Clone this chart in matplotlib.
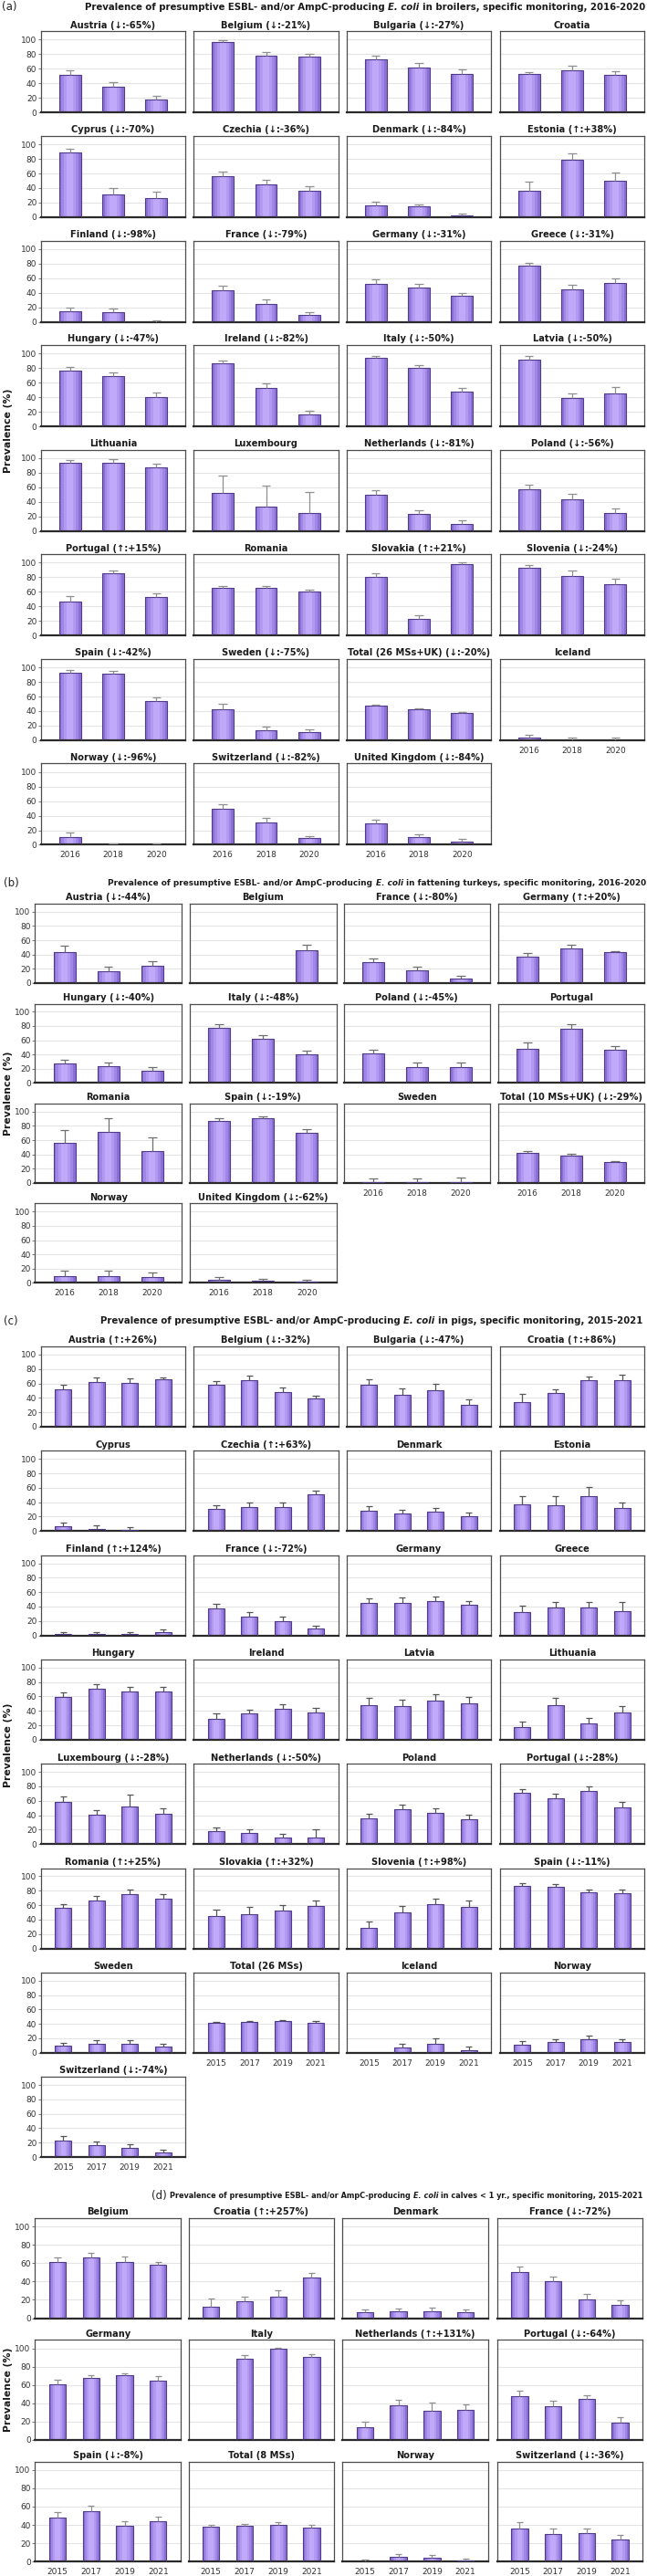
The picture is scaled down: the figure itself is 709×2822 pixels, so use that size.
import matplotlib
matplotlib.use('Agg')
import matplotlib.pyplot as plt
from matplotlib import font_manager
import numpy as np

nan = float('nan')

# ---------------- DATA ----------------
A_YEARS = ['2016', '2018', '2020']
A_TITLES = ['Austria (↓:-65%)', 'Belgium (↓:-21%)', 'Bulgaria (↓:-27%)', 'Croatia',
            'Cyprus (↓:-70%)', 'Czechia (↓:-36%)', 'Denmark (↓:-84%)', 'Estonia (↑:+38%)',
            'Finland (↓:-98%)', 'France (↓:-79%)', 'Germany (↓:-31%)', 'Greece (↓:-31%)',
            'Hungary (↓:-47%)', 'Ireland (↓:-82%)', 'Italy (↓:-50%)', 'Latvia (↓:-50%)',
            'Lithuania', 'Luxembourg', 'Netherlands (↓:-81%)', 'Poland (↓:-56%)',
            'Portugal (↑:+15%)', 'Romania', 'Slovakia (↑:+21%)', 'Slovenia (↓:-24%)',
            'Spain (↓:-42%)', 'Sweden (↓:-75%)', 'Total (26 MSs+UK) (↓:-20%)', 'Iceland',
            'Norway (↓:-96%)', 'Switzerland (↓:-82%)', 'United Kingdom (↓:-84%)']
A_VALUES = [[52, 36, 17.6], [96.6, 78, 76.5], [73, 62, 53], [53, 57.5, 51.7],
            [89, 31.4, 26.8], [56, 44.8, 36], [16, 14.6, 2.5], [36, 79, 49.4],
            [14.2, 13, 0], [43.8, 24.6, 9.2], [52, 46.7, 35.4], [76.7, 44.6, 53],
            [76.2, 69.2, 40.4], [86.7, 53, 15.8], [94.2, 80, 47.5], [91, 38.8, 45],
            [93.3, 94, 87], [52.5, 33.3, 25], [50, 23, 9.6], [57, 43.8, 25],
            [46.4, 85.4, 53], [65, 65, 61], [81, 23.4, 98.3], [93, 82.4, 70.3],
            [92.5, 90.8, 53.6], [43, 13.8, 10.9], [47, 43, 37.7], [3.3, 0.3, 0.5],
            [10.4, 0.3, 0.3], [49.6, 30.4, 9.6], [29.2, 10.8, 5]]
A_ERRS = [[6, 5.6, 5.1], [2.4, 5, 3.5], [5, 6, 6], [2.5, 6.5, 5],
          [5, 8.6, 8.2], [6.8, 6.7, 7], [5, 3, 2.5], [12.5, 9, 11.6],
          [5, 5, 1.7], [6.2, 5.8, 3.8], [6, 5, 4.2], [4.6, 5.8, 6],
          [5, 5.4, 5.8], [4.1, 6, 5], [2.5, 3.8, 5], [5, 7, 9],
          [3.7, 4, 5.5], [23.5, 28.7, 28], [6, 5.3, 5], [6, 6.6, 5.4],
          [8.4, 3.6, 5.6], [3, 3, 2], [4.4, 4.6, 1.7], [4, 6.3, 7.5],
          [3.3, 3.8, 5], [6.4, 5, 4.1], [2, 0.5, 1.6], [3.7, 3.5, 3.3],
          [5.9, 2.2, 2.2], [5.8, 6.3, 2.9], [5.4, 4.2, 3]]

B_YEARS = ['2016', '2018', '2020']
B_TITLES = ['Austria (↓:-44%)', 'Belgium', 'France (↓:-80%)', 'Germany (↑:+20%)',
            'Hungary (↓:-40%)', 'Italy (↓:-48%)', 'Poland (↓:-45%)', 'Portugal',
            'Romania', 'Spain (↓:-19%)', 'Sweden', 'Total (10 MSs+UK) (↓:-29%)',
            'Norway', 'United Kingdom (↓:-62%)']
B_VALUES = [[43.8, 16.3, 24], [nan, nan, 46.4], [28.8, 17.2, 6], [36.5, 48.5, 43.8],
            [27.2, 23.3, 16.4], [77.6, 62.5, 39.7], [41, 22, 22.4], [48.3, 76.3, 46],
            [56, 72, 45], [86.5, 90.5, 70], [1, 0.3, 0.3], [42, 38.6, 29],
            [9.7, 9.7, 7.5], [4.5, 3, 1.5]]
B_ERRS = [[8.2, 6, 6.5], [0, 0, 6.8], [5.5, 5.1, 3.9], [6, 5.1, 1.2],
          [5.6, 5.6, 5.2], [4.7, 4.3, 5.1], [6, 6, 5.6], [8.2, 6.9, 5.7],
          [18, 18.5, 19], [4, 3.5, 5], [5.4, 5.3, 7.4], [2, 2.2, 1.5],
          [6.8, 6.8, 6.8], [3.2, 2.5, 2.5]]

C_YEARS = ['2015', '2017', '2019', '2021']
C_TITLES = ['Austria (↑:+26%)', 'Belgium (↓:-32%)', 'Bulgaria (↓:-47%)', 'Croatia (↑:+86%)',
            'Cyprus', 'Czechia (↑:+63%)', 'Denmark', 'Estonia',
            'Finland (↑:+124%)', 'France (↓:-72%)', 'Germany', 'Greece',
            'Hungary', 'Ireland', 'Latvia', 'Lithuania',
            'Luxembourg (↓:-28%)', 'Netherlands (↓:-50%)', 'Poland', 'Portugal (↓:-28%)',
            'Romania (↑:+25%)', 'Slovakia (↑:+32%)', 'Slovenia (↑:+98%)', 'Spain (↓:-11%)',
            'Sweden', 'Total (26 MSs)', 'Iceland', 'Norway',
            'Switzerland (↓:-74%)']
C_VALUES = [[51.5, 61.7, 61.3, 65.5], [57.9, 64.7, 48, 39], [58.7, 44.7, 51, 30.2], [34.5, 46.4, 64.3, 64.7],
            [6.4, 3, 2, nan], [30.5, 33, 33.5, 50.4], [28, 24.6, 26.7, 20.3], [36.9, 35.6, 48.7, 31.4],
            [2, 2, 2, 4.7], [37.3, 26, 20, 9.4], [45.5, 45.5, 48, 42], [31.8, 38.6, 38.6, 34],
            [59.5, 70.5, 66.7, 67.5], [29, 36.3, 43.5, 37.6], [48.5, 46.4, 54, 50.2], [18, 48.5, 23.2, 38],
            [58.5, 40.3, 52, 42], [17.8, 14.8, 9.3, 8.5], [36, 47.9, 43.2, 34.7], [71.2, 63.1, 74, 51.3],
            [55.7, 66.2, 75.5, 69.2], [44.3, 48, 51.9, 58.2], [29, 50.2, 60.8, 57.4], [86.5, 85.2, 77.6, 76.8],
            [10, 11.8, 13, 8.4], [41, 43, 44.3, 41.4], [nan, 7.2, 12.7, 3.4], [11, 14.3, 18.6, 14.3],
            [23.3, 16.1, 13.1, 6]]
C_ERRS = [[6.8, 6.3, 5.5, 3], [5.5, 6.3, 7, 3.6], [7.7, 8.9, 9, 7.7], [11, 5.1, 5.5, 6.8],
          [5.9, 5, 4, 0], [5.9, 6, 5.5, 6], [6, 5.4, 5.3, 5.1], [11.4, 12.7, 12.3, 8.4],
          [2.3, 2.3, 2.3, 3.9], [6, 5.8, 6, 4.3], [5.5, 6.5, 5.6, 6], [9, 7.8, 7.8, 12.4],
          [5.9, 6.3, 5.9, 5.5], [8, 5.7, 6.3, 6.4], [9.3, 8.9, 8.9, 8.8], [7.3, 9.3, 7.6, 8.8],
          [8, 7.2, 17, 7.6], [5.5, 5.2, 4.3, 11.5], [6, 6.3, 5.8, 6], [5.1, 6.9, 6, 6.7],
          [5.5, 6.4, 5.9, 6.3], [9.3, 9.4, 8.4, 8.5], [8, 8, 8, 8.4], [4.2, 4.3, 4.3, 4.2],
          [4, 5.1, 4.7, 4.3], [1.6, 1.3, 1.3, 2.1], [0, 5.8, 7.1, 4.6], [5, 4.7, 5.4, 4.7],
          [5.5, 5.1, 4.7, 3.7]]

D_YEARS = ['2015', '2017', '2019', '2021']
D_TITLES = ['Belgium', 'Croatia (↑:+257%)', 'Denmark', 'France (↓:-72%)',
            'Germany', 'Italy', 'Netherlands (↑:+131%)', 'Portugal (↓:-64%)',
            'Spain (↓:-8%)', 'Total (8 MSs)', 'Norway', 'Switzerland (↓:-36%)']
D_VALUES = [[61, 66, 61, 58], [12.2, 18.3, 23.7, 44.7], [6.4, 7.1, 7.8, 6.1], [50.2, 40, 20.3, 14.6],
            [60.7, 67.8, 70.8, 64.4], [nan, 88.8, 99.7, 90.2], [14.2, 37.6, 32.2, 33.2], [47.5, 36.6, 45, 18.3],
            [48.3, 55.4, 39.2, 43.6], [38.2, 39.2, 40.5, 37.5], [0, 4.7, 4, 1], [36.5, 30.4, 30.7, 23.6]]
D_ERRS = [[5.8, 5.5, 6, 3.7], [8.8, 5.1, 7.1, 4.8], [3.4, 3.7, 4.1, 3.1], [6.1, 5.8, 6.1, 4.7],
          [5.3, 3, 1.7, 5.4], [0, 3.7, 0.6, 3.8], [5.1, 6.1, 8.1, 5.8], [6.1, 6.4, 3.5, 6.1],
          [5.8, 5.7, 5.1, 5.7], [2, 2, 2.1, 2.4], [2.4, 3.1, 3, 2], [6.4, 5.7, 5.8, 5.8]]

SECTION_LABELS = ['(a)', '(b)', '(c)', '(d)']
SECTION_SUBJECTS = ['in broilers, specific monitoring, 2016-2020',
                    'in fattening turkeys, specific monitoring, 2016-2020',
                    'in pigs, specific monitoring, 2015-2021',
                    'in calves < 1 yr., specific monitoring, 2015-2021']
TITLE_HEAD = 'Prevalence of presumptive ESBL- and/or AmpC-producing'
TITLE_BUG = 'E. coli'
YLABEL = 'Prevalence (%)'

# ---------------- LAYOUT ----------------
W, H = 709, 2822
DPI = 100
fig = plt.figure(figsize=(W / DPI, H / DPI), dpi=DPI)
fig.patch.set_facecolor('white')
renderer = fig.canvas.get_renderer()

FONT = ['DejaVu Sans']
_installed = {f.name for f in font_manager.fontManager.ttflist}
NARROW = None
for cand in ['Liberation Sans Narrow', 'DejaVu Sans Condensed']:
    if cand in _installed:
        NARROW = cand
        break
TFONT = [NARROW, 'DejaVu Sans'] if NARROW else FONT

sections = [
    dict(years=A_YEARS, titles=A_TITLES, values=A_VALUES, errs=A_ERRS,
         lefts=[45, 212.5, 380, 548], w=158, top0=34.3, pitch=114.6, h=89, ytop=111.5,
         title_y=8, title_left=93, label_x=2, ylab_y=472, ecol='#8f8f8f', tsize_cap=None),
    dict(years=B_YEARS, titles=B_TITLES, values=B_VALUES, errs=B_ERRS,
         lefts=[38.4, 208, 376.6, 545.7], w=160.5, top0=990, pitch=109.5, h=86.7, ytop=111.5,
         title_y=968, title_left=118.5, label_x=4, ylab_y=1198, ecol='#6f6f6f', tsize_cap=None),
    dict(years=C_YEARS, titles=C_TITLES, values=C_VALUES, errs=C_ERRS,
         lefts=[45, 212.5, 380, 548], w=158, top0=1475, pitch=114.3, h=88, ytop=111.3,
         title_y=1447, title_left=110, label_x=4, ylab_y=1912, ecol='#555555', tsize_cap=None),
    dict(years=D_YEARS, titles=D_TITLES, values=D_VALUES, errs=D_ERRS,
         lefts=[38.4, 206.6, 375.3, 544.8], w=159.5, top0=2430, pitch=133.3, h=109.5, ytop=109.3,
         title_y=2405, title_left=186, label_x=166, ylab_y=2618, ecol='#8f8f8f', tsize_cap=None),
]


def px_axes(left, top, w, h):
    return fig.add_axes([left / W, 1 - (top + h) / H, w / W, h / H])


def text_width(s, size, family, weight='bold', style='normal'):
    t = fig.text(0, 0, s, fontsize=size, weight=weight, style=style, family=family)
    wd = t.get_window_extent(renderer).width
    t.remove()
    return wd


def section_title(label, subject, sec):
    y = 1 - sec['title_y'] / H
    fig.text(sec['label_x'] / W, y, label, fontsize=8.5, ha='left', va='center',
             family=TFONT, color='#222222')
    pieces = [(TITLE_HEAD, 'normal'), (TITLE_BUG, 'italic'), (subject, 'normal')]
    ref = 10.0
    sp = text_width('x x', ref, TFONT) - text_width('xx', ref, TFONT)
    total = sum(text_width(p, ref, TFONT, style=s) for p, s in pieces) + 2 * sp
    right = 704.0
    size = ref * (right - sec['title_left']) / total
    sp = text_width('x x', size, TFONT) - text_width('xx', size, TFONT)
    x = sec['title_left']
    for p, s in pieces:
        fig.text(x / W, y, p, fontsize=size, weight='bold', style=s, ha='left',
                 va='center', family=TFONT, color='#1a1a1a')
        x += text_width(p, size, TFONT, style=s) + sp


def draw_panel(ax, title, vals, errs, years, show_y, show_x, ytop, ecol):
    n = len(years)
    xs = np.arange(n)
    vals = np.array(vals, dtype=float)
    errs = np.array(errs, dtype=float)
    ok = ~np.isnan(vals)
    bw = 0.5
    for frac, col in [(1.0, '#8c6fd4'), (0.78, '#a086e6'), (0.55, '#b29af1'), (0.3, '#bfa9f8')]:
        ax.bar(xs[ok], vals[ok], bw * frac, color=col, lw=0, zorder=2)
    ax.bar(xs[ok], vals[ok], bw, fill=False, edgecolor='#4f3b88', lw=0.8, zorder=3)
    tops = vals[ok] + errs[ok]
    ax.vlines(xs[ok], vals[ok], tops, color=ecol, lw=0.9, zorder=4)
    ax.hlines(tops, xs[ok] - 0.1, xs[ok] + 0.1, color=ecol, lw=0.9, zorder=4)

    ax.set_xlim(-0.67, n - 1 + 0.67)
    ax.set_ylim(0, ytop)
    ax.set_yticks([0, 20, 40, 60, 80, 100])
    ax.yaxis.grid(True, color='#e4e4e4', lw=0.8)
    ax.set_axisbelow(True)
    ax.set_xticks(xs)
    ax.set_xticklabels(years)
    ax.tick_params(axis='x', length=0, pad=5, labelsize=6.5, labelcolor='#333333',
                   labelbottom=show_x)
    if show_y:
        ax.tick_params(axis='y', length=2.2, width=0.6, color='#666666', pad=1.2,
                       labelsize=6.5, labelcolor='#333333')
    else:
        ax.tick_params(axis='y', left=False, labelleft=False)
    for side in ['top', 'left', 'right']:
        ax.spines[side].set_color('#4d4d4d')
        ax.spines[side].set_linewidth(0.9)
    ax.spines['bottom'].set_color('#2a2a2a')
    ax.spines['bottom'].set_linewidth(1.6)
    ax.set_title(title, fontsize=7.1, weight='bold', pad=2.6, color='#1a1a1a', family=FONT)


for si, sec in enumerate(sections):
    section_title(SECTION_LABELS[si], SECTION_SUBJECTS[si], sec)
    npan = len(sec['titles'])
    last_row = {}
    for i in range(npan):
        last_row[i % 4] = i // 4
    for i in range(npan):
        r, c = divmod(i, 4)
        ax = px_axes(sec['lefts'][c], sec['top0'] + r * sec['pitch'], sec['w'], sec['h'])
        draw_panel(ax, sec['titles'][i], sec['values'][i], sec['errs'][i], sec['years'],
                   show_y=(c == 0), show_x=(last_row[c] == r), ytop=sec['ytop'], ecol=sec['ecol'])
    fig.text(9 / W, 1 - sec['ylab_y'] / H, YLABEL, rotation=90, ha='center', va='center',
             fontsize=7.8, weight='bold', family=FONT, color='#1a1a1a')

fig.savefig('out.png', dpi=DPI, facecolor='white')
